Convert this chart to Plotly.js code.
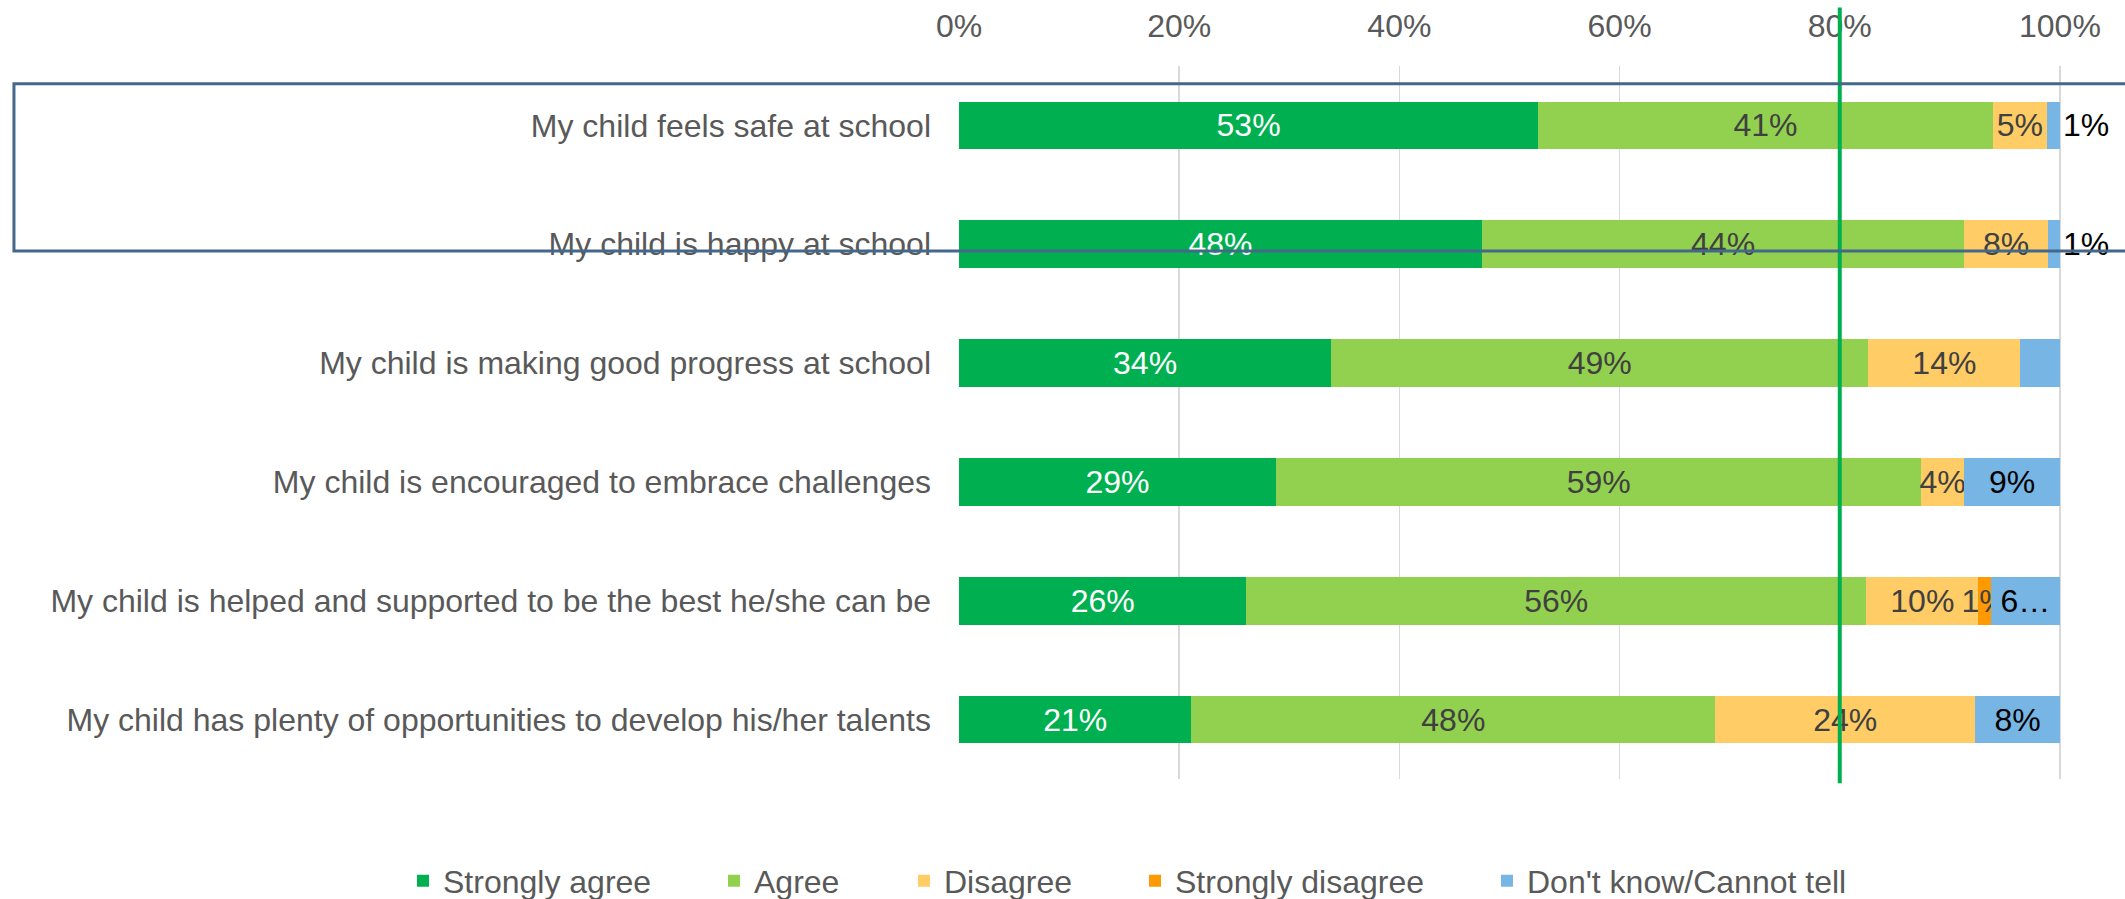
<!DOCTYPE html>
<html>
<head>
<meta charset="utf-8">
<script src="https://cdn.plot.ly/plotly-3.0.1.min.js"></script>
<style>html,body{margin:0;padding:0;background:#fff;}#chart{width:2125px;height:899px;}</style>
</head>
<body>
<div id="chart"></div>
<script>
const categories = [
  "My child feels safe at school",
  "My child is happy at school",
  "My child is making good progress at school",
  "My child is encouraged to embrace challenges",
  "My child is helped and supported to be the best he/she can be",
  "My child has plenty of opportunities to develop his/her talents"
];
const seriesNames = ["Strongly agree", "Agree", "Disagree", "Strongly disagree", "Don't know/Cannot tell"];
const stronglyAgree = [52.6, 47.5, 33.8, 28.8, 26.1, 21.1];
const agree = [41.3, 43.8, 48.8, 58.6, 56.3, 47.6];
const disagree = [4.9, 7.6, 13.8, 3.9, 10.2, 23.6];
const stronglyDisagree = [0, 0, 0, 0, 1.1, 0];
const dontKnow = [1.2, 1.1, 3.6, 8.7, 6.3, 7.7];
const saLabels = ["53%", "48%", "34%", "29%", "26%", "21%"];
const agLabels = ["41%", "44%", "49%", "59%", "56%", "48%"];
const diLabels = ["5%", "8%", "14%", "4%", "10%", "24%"];
const sdLabels = ["", "", "", "", "1%", ""];
const dkLabels = ["1%", "1%", "", "9%", "6…", "8%"];
const xTicks = [0, 20, 40, 60, 80, 100];
const target = 80;

const FONT = "Liberation Sans, Arial, sans-serif";
const FS = 32;
const colors = ["#00B050", "#92D050", "#FFCC66", "#FF9900", "#77B6E4"];
const textColors = ["#FFFFFF", "#404040", "#404040", "#404040", "#000000"];
const values = [stronglyAgree, agree, disagree, stronglyDisagree, dontKnow];
const labels = [saLabels, agLabels, diLabels, sdLabels, dkLabels];
const legendIds = ["legend", "legend2", "legend3", "legend4", "legend5"];
const legendX = [403, 714, 904, 1135, 1487];

const traces = values.map((v, i) => ({
  type: "bar",
  orientation: "h",
  name: seriesNames[i],
  y: categories,
  x: v,
  text: labels[i],
  textposition: i === 4 ? ["outside", "outside", "inside", "inside", "inside", "inside"] : "inside",
  insidetextanchor: "middle",
  constraintext: "none",
  textangle: 0,
  textfont: {family: FONT, size: FS, color: textColors[i]},
  insidetextfont: {family: FONT, size: FS, color: textColors[i]},
  outsidetextfont: {family: FONT, size: FS, color: textColors[i]},
  marker: {color: colors[i], line: {width: 0}},
  legend: legendIds[i],
  hoverinfo: "skip"
}));

const layout = {
  width: 2125,
  height: 899,
  margin: {l: 959, r: 10, t: 66, b: 120},
  paper_bgcolor: "#FFFFFF",
  plot_bgcolor: "#FFFFFF",
  barmode: "stack",
  bargap: 0.6,
  font: {family: FONT, size: FS, color: "#595959"},
  showlegend: true,
  xaxis: {
    side: "top",
    range: [0, 105],
    tickvals: xTicks,
    ticktext: xTicks.map(t => t + "%"),
    showgrid: true,
    gridcolor: "#D9D9D9",
    gridwidth: 1.5,
    zeroline: false,
    showline: false,
    ticks: "",
    ticklabelstandoff: 22,
    tickfont: {family: FONT, size: FS, color: "#595959"},
    fixedrange: true
  },
  yaxis: {
    type: "category",
    autorange: "reversed",
    showgrid: false,
    zeroline: false,
    showline: false,
    ticks: "",
    ticklabelstandoff: 27,
    tickfont: {family: FONT, size: FS, color: "#595959"},
    fixedrange: true
  },
  shapes: [
    {type: "line", xref: "x", yref: "paper", x0: target, x1: target, y0: -0.006, y1: 1.082,
     line: {color: "#00B050", width: 4}, layer: "above"},
    {type: "rect", xref: "paper", yref: "paper", x0: -0.8175, x1: 1.02, y0: 0.7405, y1: 0.975,
     line: {color: "#44688A", width: 3}, fillcolor: "rgba(0,0,0,0)", layer: "above"}
  ]
};
legendIds.forEach((id, i) => {
  layout[id] = {
    xref: "container", yref: "container",
    x: legendX[i] / 2125, xanchor: "left", y: 18 / 899, yanchor: "middle",
    orientation: "h", bgcolor: "rgba(0,0,0,0)", borderwidth: 0,
    font: {family: FONT, size: FS, color: "#595959"}
  };
});

Plotly.newPlot("chart", traces, layout, {staticPlot: true, displayModeBar: false});
</script>
</body>
</html>
